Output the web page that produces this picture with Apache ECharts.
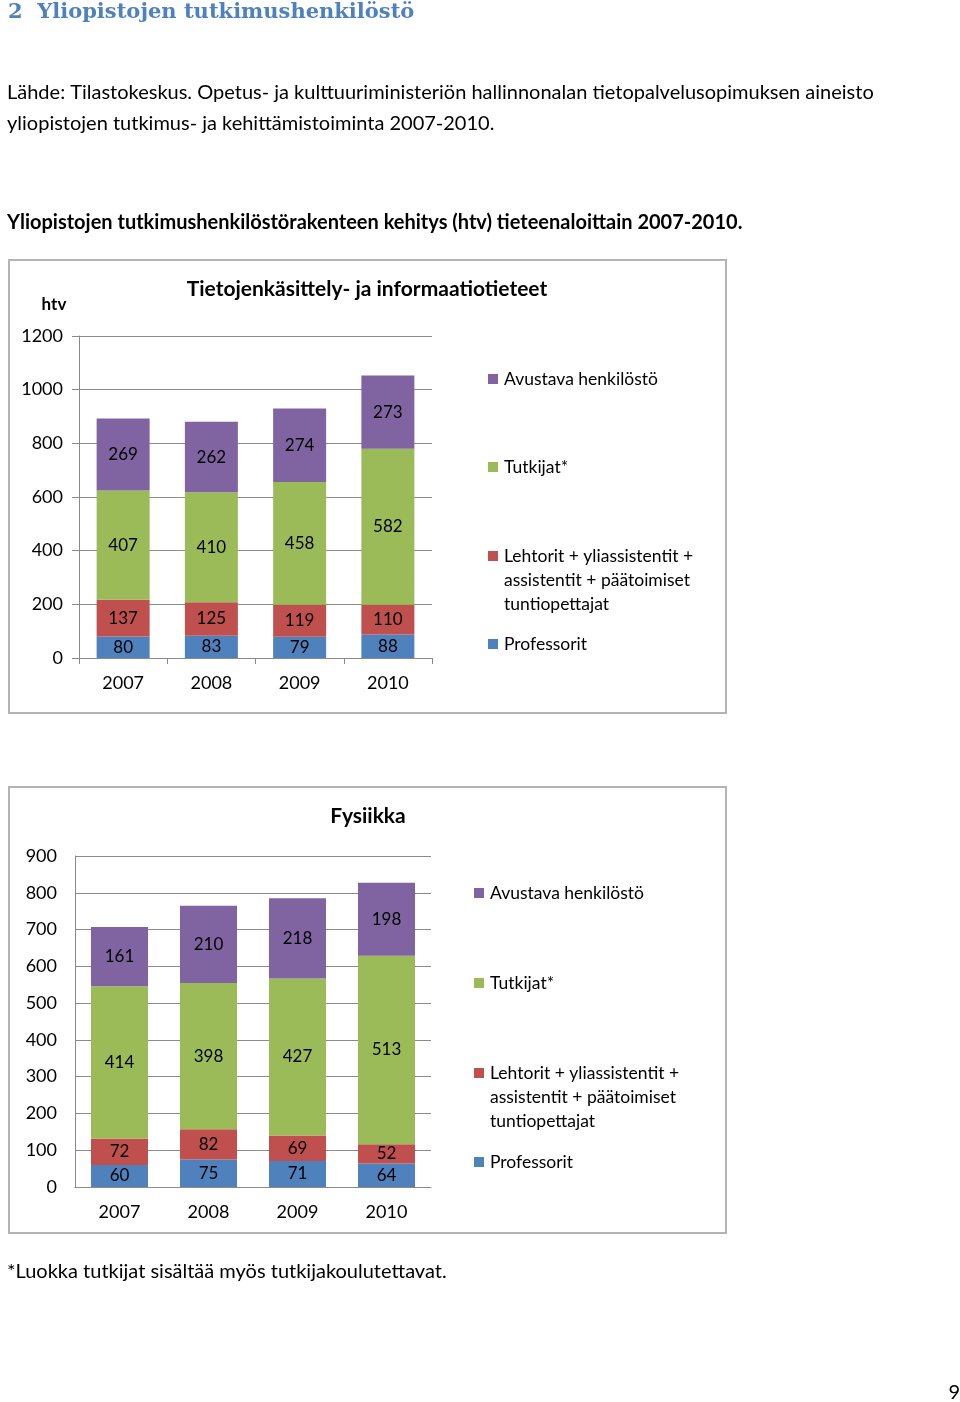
<!DOCTYPE html>
<html><head><meta charset="utf-8">
<script src="https://cdn.jsdelivr.net/npm/echarts@6/dist/echarts.min.js"></script>
<style>html,body{margin:0;padding:0;background:#fff}#c{width:960px;height:1402px}</style>
</head><body><div id="c"></div>
<script>
const years = ['2007','2008','2009','2010'];
const seriesNames = ['Professorit','Lehtorit + yliassistentit +\nassistentit + päätoimiset\ntuntiopettajat','Tutkijat*','Avustava henkilöstö'];
const colors = ['#4f81bd','#c0504d','#9bbb59','#8064a2'];
// Tietojenkäsittely- ja informaatiotieteet
const tietoProfessorit = [80,83,79,88];
const tietoLehtorit = [137,125,119,110];
const tietoTutkijat = [407,410,458,582];
const tietoAvustava = [269,262,274,273];
// Fysiikka
const fysProfessorit = [60,75,71,64];
const fysLehtorit = [72,82,69,52];
const fysTutkijat = [414,398,427,513];
const fysAvustava = [161,210,218,198];
const yMax1 = 1200, yStep1 = 200;
const yMax2 = 900, yStep2 = 100;

const F = 'Lato, "Open Sans", sans-serif';
const grey = '#8a8a8a';

function mkSeries(name, data, idx, color, stack, bw){
  return {type:'bar', name:name, stack:stack, xAxisIndex:idx, yAxisIndex:idx, data:data, barWidth:bw,
    itemStyle:{color:color}, label:{show:true, position:'inside', color:'#000', fontFamily:F, fontSize:17}};
}
const t1 = [tietoProfessorit, tietoLehtorit, tietoTutkijat, tietoAvustava];
const t2 = [fysProfessorit, fysLehtorit, fysTutkijat, fysAvustava];
const series = [];
t1.forEach((d,i)=>series.push(mkSeries(seriesNames[i], d, 0, colors[i], 'a', 53)));
t2.forEach((d,i)=>series.push(mkSeries(seriesNames[i], d, 1, colors[i], 'b', 57)));

function legend(x, ys){
  const els = [];
  for (let k=0;k<4;k++){
    const i = 3-k;
    els.push({type:'rect', shape:{x:x, y:ys[k]-5, width:10, height:10}, style:{fill:colors[i]}});
    els.push({type:'text', x:x+16, y:ys[k]-12, style:{text:seriesNames[i], font:'17.5px '+F, fill:'#000', lineHeight:24, textVerticalAlign:'top'}});
  }
  return els;
}
function txt(x,y,text,font,fill,align){
  return {type:'text', x:x, y:y, style:{text:text, font:font, fill:fill||'#000', textAlign:align||'left', textVerticalAlign:'middle'}};
}

const graphic = [
  {type:'rect', shape:{x:9, y:260, width:717, height:453}, style:{fill:'none', stroke:'#b4b4b4', lineWidth:2}},
  {type:'rect', shape:{x:9, y:787, width:717, height:446}, style:{fill:'none', stroke:'#b4b4b4', lineWidth:2}},
  txt(8,13,'2  Yliopistojen tutkimushenkilöstö','bold 21px "DejaVu Serif", serif','#4f81bd'),
  txt(7,93,'Lähde: Tilastokeskus. Opetus- ja kulttuuriministeriön hallinnonalan tietopalvelusopimuksen aineisto','20px '+F),
  txt(7,124,'yliopistojen tutkimus- ja kehittämistoiminta 2007-2010.','20px '+F),
  txt(7,223,'Yliopistojen tutkimushenkilöstörakenteen kehitys (htv) tieteenaloittain 2007-2010.','bold 20px '+F),
  txt(367,289,'Tietojenkäsittely- ja informaatiotieteet','bold 21px '+F,'#000','center'),
  txt(54,305,'htv','bold 17px '+F,'#000','center'),
  txt(368,816,'Fysiikka','bold 21px '+F,'#000','center'),
  txt(7,1272,'*Luokka tutkijat sisältää myös tutkijakoulutettavat.','20px '+F),
  txt(960,1393,'9','20px '+F,'#000','right')
].concat(legend(488,[379,467,556,644])).concat(legend(474,[893,983,1073,1162]));

const plain = v => String(v);
const chart = echarts.init(document.getElementById('c'), null, {renderer:'canvas'});
chart.setOption({
  animation:false,
  textStyle:{fontFamily:F},
  grid:[
    {left:79, top:336, width:353, height:322, containLabel:false},
    {left:75, top:856, width:356, height:331, containLabel:false}
  ],
  xAxis:[
    {type:'category', gridIndex:0, data:years, axisLine:{lineStyle:{color:grey}}, axisTick:{show:true, length:6, lineStyle:{color:grey}},
     axisLabel:{color:'#000', fontSize:18, fontFamily:F, margin:16}},
    {type:'category', gridIndex:1, data:years, axisLine:{lineStyle:{color:grey}}, axisTick:{show:false},
     axisLabel:{color:'#000', fontSize:18, fontFamily:F, margin:16}}
  ],
  yAxis:[
    {type:'value', gridIndex:0, min:0, max:yMax1, interval:yStep1, axisLine:{show:true, lineStyle:{color:grey}},
     axisTick:{show:true, length:7, lineStyle:{color:grey}}, splitLine:{lineStyle:{color:grey}},
     axisLabel:{color:'#000', fontSize:18, fontFamily:F, margin:16, formatter:plain}},
    {type:'value', gridIndex:1, min:0, max:yMax2, interval:yStep2, axisLine:{show:true, lineStyle:{color:grey}},
     axisTick:{show:false}, splitLine:{lineStyle:{color:grey}},
     axisLabel:{color:'#000', fontSize:18, fontFamily:F, margin:18, formatter:plain}}
  ],
  series:series,
  graphic:graphic
});
</script></body></html>
